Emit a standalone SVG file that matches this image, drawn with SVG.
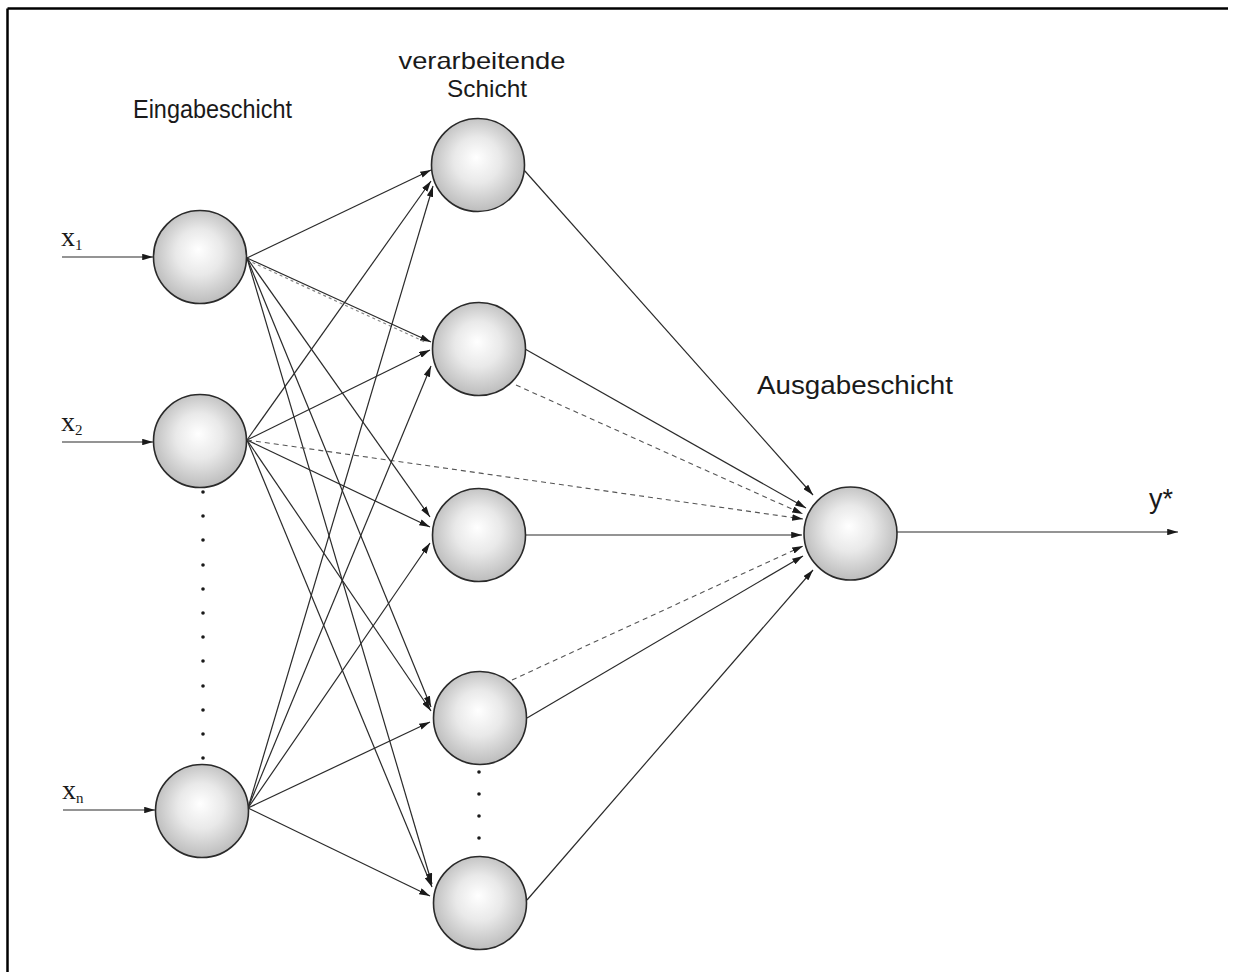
<svg xmlns="http://www.w3.org/2000/svg" width="1233" height="972" viewBox="0 0 1233 972">
<defs>
<radialGradient id="ball" cx="50%" cy="48%" r="55%" fx="48%" fy="42%">
<stop offset="0" stop-color="#ffffff"/>
<stop offset="0.45" stop-color="#e9e9e9"/>
<stop offset="1" stop-color="#b8b8b8"/>
</radialGradient>
<marker id="ah" viewBox="0 0 10 6" refX="10" refY="3" markerWidth="11" markerHeight="6.5" orient="auto" markerUnits="userSpaceOnUse">
<path d="M0,0 L10,3 L0,6 z" fill="#1a1a1a"/>
</marker>
<style>
.node{fill:url(#ball);stroke:#2a2a2a;stroke-width:1.6}
.c{stroke:#2a2a2a;stroke-width:1.2;fill:none;marker-end:url(#ah)}
.d{stroke:#555;stroke-width:1.1;fill:none;stroke-dasharray:5 4;marker-end:url(#ah)}
.ov{stroke:#888;stroke-width:1.2;fill:none;stroke-dasharray:3 3}
.lab{font-family:"Liberation Sans",Arial,sans-serif;font-size:26px;fill:#1a1a1a}
.lab2{font-family:"Liberation Sans",Arial,sans-serif;font-size:24px;fill:#1a1a1a}
.var{font-family:"Liberation Serif","Times New Roman",serif;font-size:28px;fill:#1a1a1a}
.sub{font-size:15px}
.dot{fill:#1a1a1a}
</style>
</defs>
<rect x="0" y="0" width="1233" height="972" fill="#ffffff"/>
<g id="frame" stroke="#000" stroke-width="2.5" fill="none">
<line x1="7.5" y1="8.5" x2="1228" y2="8.5"/>
<line x1="7.5" y1="8.5" x2="7.5" y2="972"/>
</g>
<g id="labels">
<text class="lab" x="133" y="118" textLength="159" lengthAdjust="spacingAndGlyphs">Eingabeschicht</text>
<text class="lab2" x="482" y="69" text-anchor="middle" textLength="167" lengthAdjust="spacingAndGlyphs">verarbeitende</text>
<text class="lab2" x="487" y="97" text-anchor="middle" textLength="80" lengthAdjust="spacingAndGlyphs">Schicht</text>
<text class="lab" x="757" y="394" textLength="196" lengthAdjust="spacingAndGlyphs">Ausgabeschicht</text>
<text class="lab" x="1149" y="508" style="font-size:27px">y*</text>
<text class="var" x="61" y="246">x<tspan class="sub" dy="4">1</tspan></text>
<text class="var" x="61" y="431">x<tspan class="sub" dy="4">2</tspan></text>
<text class="var" x="62" y="799">x<tspan class="sub" dy="4">n</tspan></text>
</g>
<g id="connectors">
<line class="c" x1="62" y1="257" x2="153" y2="257"/>
<line class="c" x1="62" y1="442" x2="153" y2="442"/>
<line class="c" x1="63" y1="810" x2="155" y2="810"/>
<line class="c" x1="247" y1="258" x2="431" y2="170"/>
<line class="c" x1="247" y1="258" x2="431" y2="342"/>
<line class="ov" x1="247" y1="260" x2="425" y2="342"/>
<line class="c" x1="247" y1="258" x2="430" y2="517"/>
<line class="c" x1="247" y1="258" x2="431" y2="707"/>
<line class="c" x1="247" y1="258" x2="432" y2="884"/>
<line class="c" x1="247" y1="440" x2="431" y2="181"/>
<line class="c" x1="247" y1="440" x2="430" y2="350"/>
<line class="c" x1="247" y1="440" x2="430" y2="527"/>
<line class="c" x1="247" y1="440" x2="431" y2="711"/>
<line class="c" x1="247" y1="440" x2="432" y2="887"/>
<line class="d" x1="247" y1="440" x2="803" y2="519"/>
<line class="c" x1="248" y1="808" x2="433" y2="186"/>
<line class="c" x1="248" y1="808" x2="431" y2="366"/>
<line class="c" x1="248" y1="808" x2="430" y2="543"/>
<line class="c" x1="248" y1="808" x2="430" y2="722"/>
<line class="c" x1="248" y1="808" x2="430" y2="896"/>
<line class="c" x1="524" y1="170" x2="813" y2="495"/>
<line class="c" x1="525" y1="349" x2="806" y2="508"/>
<line class="d" x1="516" y1="385" x2="803" y2="514"/>
<line class="c" x1="526" y1="535" x2="802" y2="535"/>
<line class="d" x1="512" y1="680" x2="803" y2="546"/>
<line class="c" x1="527" y1="718" x2="803" y2="556"/>
<line class="c" x1="527" y1="900" x2="813" y2="570"/>
<line class="c" x1="897" y1="532" x2="1178" y2="532"/>
</g>
<g id="in1"><circle class="node" cx="200" cy="257" r="46.5"/></g>
<g id="in2"><circle class="node" cx="200" cy="441" r="46.5"/></g>
<g id="inn"><circle class="node" cx="202" cy="811" r="46.5"/></g>
<g id="h1"><circle class="node" cx="478" cy="165" r="46.5"/></g>
<g id="h2"><circle class="node" cx="479" cy="349" r="46.5"/></g>
<g id="h3"><circle class="node" cx="479" cy="535" r="46.5"/></g>
<g id="h4"><circle class="node" cx="480" cy="718" r="46.5"/></g>
<g id="h5"><circle class="node" cx="480" cy="903" r="46.5"/></g>
<g id="out"><circle class="node" cx="850.5" cy="533.5" r="46.5"/></g>
<g id="dots-input">
<circle class="dot" cx="203" cy="492" r="1.8"/>
<circle class="dot" cx="203" cy="516" r="1.8"/>
<circle class="dot" cx="203" cy="540" r="1.8"/>
<circle class="dot" cx="203" cy="565" r="1.8"/>
<circle class="dot" cx="203" cy="589" r="1.8"/>
<circle class="dot" cx="203" cy="613" r="1.8"/>
<circle class="dot" cx="203" cy="637" r="1.8"/>
<circle class="dot" cx="203" cy="661" r="1.8"/>
<circle class="dot" cx="203" cy="686" r="1.8"/>
<circle class="dot" cx="203" cy="710" r="1.8"/>
<circle class="dot" cx="203" cy="734" r="1.8"/>
<circle class="dot" cx="203" cy="758" r="1.8"/>
</g>
<g id="dots-hidden">
<circle class="dot" cx="479" cy="772" r="1.8"/>
<circle class="dot" cx="479" cy="794" r="1.8"/>
<circle class="dot" cx="479" cy="816" r="1.8"/>
<circle class="dot" cx="479" cy="838" r="1.8"/>
</g>
</svg>
